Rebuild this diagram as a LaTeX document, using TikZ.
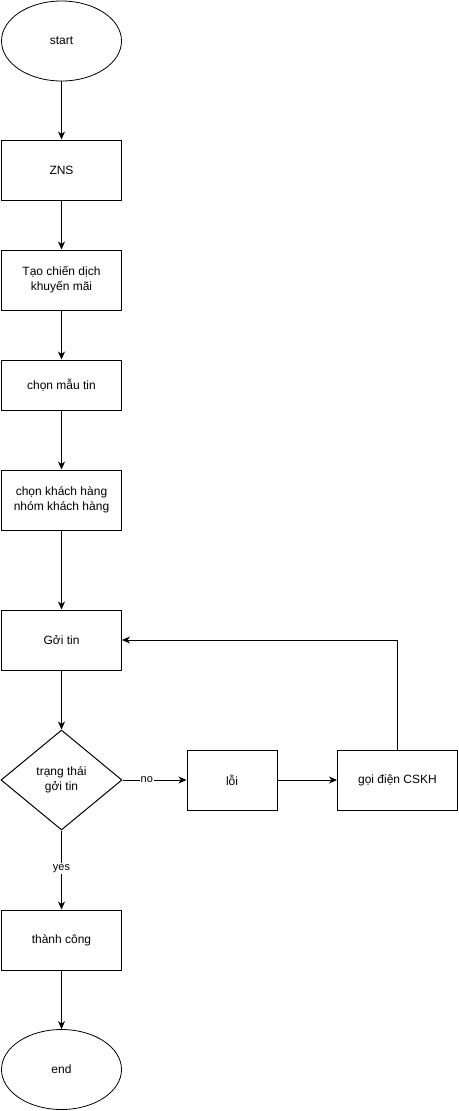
\documentclass[tikz,border=0pt]{standalone}
\usepackage{fontspec}
\setmainfont{Liberation Sans}
\usetikzlibrary{arrows.meta,shapes.geometric}
\begin{document}
\begin{tikzpicture}[x=1pt,y=-1pt,
  every node/.style={font=\fontsize{12}{15}\selectfont, align=center, inner sep=0pt},
  box/.style={draw, line width=1pt, minimum width=120pt, minimum height=60pt},
  oval/.style={draw, line width=0.8pt, ellipse, minimum width=120pt, minimum height=80pt},
  conn/.style={line width=1pt, -{Stealth[length=8pt,width=7pt,inset=2.5pt]}},
  lbl/.style={fill=white, font=\fontsize{11}{13}\selectfont, inner sep=1pt}]
\useasboundingbox (0,0) rectangle (458,1111);
\node[oval] (start) at (61.5,41) {start};
\node[box] (zns) at (61.5,170) {ZNS};
\node[box] (tao) at (61.5,280) {Tạo chiến dịch\\khuyến mãi};
\node[box, minimum height=50pt] (mau) at (61.5,385) {chọn mẫu tin};
\node[box] (kh) at (61.5,500) {chọn khách hàng\\nhóm khách hàng};
\node[box] (goi) at (61.5,640) {Gởi tin};
\node[draw, line width=1pt, diamond, minimum width=121pt, minimum height=100pt, inner sep=0pt, shape aspect=1.21] (tt) at (61.5,780) {trạng thái\\gởi tin};
\node[box, minimum width=90pt] (loi) at (232,780) {lỗi};
\node[box] (cskh) at (397.5,780) {gọi điện CSKH};
\node[box] (tc) at (61.5,940) {thành công};
\node[oval] (end) at (61.5,1069.5) {end};
\draw[conn] (start) -- (zns);
\draw[conn] (zns) -- (tao);
\draw[conn] (tao) -- (mau);
\draw[conn] (mau) -- (kh);
\draw[conn] (kh) -- (goi);
\draw[conn] (goi) -- (tt);
\draw[conn] (tt.east) -- node[lbl, pos=0.38] {no} (loi.west);
\draw[conn] (loi) -- (cskh);
\draw[conn] (cskh.north) |- (goi.east);
\draw[conn] (tt.south) -- node[lbl, pos=0.48] {yes} (tc.north);
\draw[conn] (tc) -- (end);
\end{tikzpicture}
\end{document}
